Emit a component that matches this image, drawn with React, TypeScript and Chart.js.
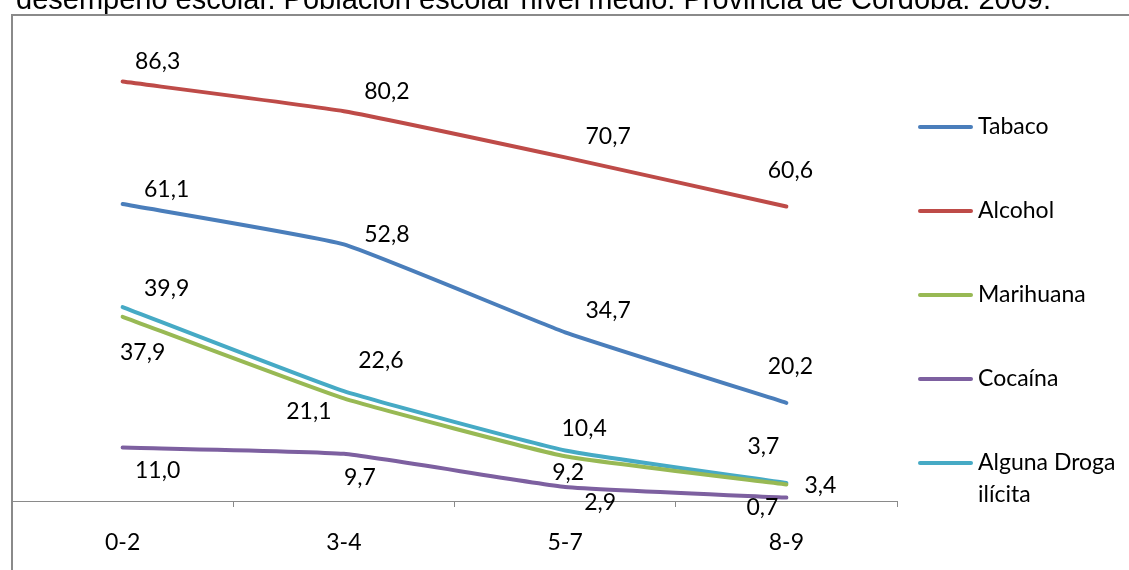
import React, { useEffect, useRef } from "react";
import { Chart, registerables } from "chart.js";

Chart.register(...registerables);

const TITLE = "desempeño escolar. Población escolar nivel medio. Provincia de Córdoba. 2009.";
const CATEGORIES = ["0-2", "3-4", "5-7", "8-9"];
const SERIES_NAMES = ["Tabaco", "Alcohol", "Marihuana", "Cocaína", "Alguna Droga ilícita"];
const TABACO = [61.1, 52.8, 34.7, 20.2];
const ALCOHOL = [86.3, 80.2, 70.7, 60.6];
const MARIHUANA = [37.9, 21.1, 9.2, 3.4];
const COCAINA = [11.0, 9.7, 2.9, 0.7];
const ALGUNA_DROGA = [39.9, 22.6, 10.4, 3.7];
const Y_MIN = 0;
const Y_MAX = 100;

// styling / placement (not data)
const COLORS = ["#4A7EBB", "#BE4B48", "#98B954", "#7D60A0", "#46AAC5"];
const LABEL_OFFSETS: number[][][] = [
  [[44, -14], [43, -10], [43, -22], [4, -36]],
  [[35, -20], [43, -20], [43, -21], [4, -36]],
  [[20, 36], [-35, 13], [3, 16], [34, 1]],
  [[35, 23], [16, 24], [35, 16], [-24, 10]],
  [[44, -19], [37, -31], [19, -22], [-23, -36]],
];
const FONT = "Lato, 'Open Sans', Calibri, sans-serif";

const fmt = (v: number) => v.toFixed(1).replace(".", ",");

const decorPlugin = {
  id: "decor",
  beforeDraw(chart: any) {
    const ctx = chart.ctx;
    ctx.save();
    ctx.fillStyle = "#ffffff";
    ctx.fillRect(0, 0, chart.width, chart.height);
    ctx.fillStyle = "#000";
    ctx.font = "29px 'Liberation Sans', Arial, sans-serif";
    ctx.textBaseline = "alphabetic";
    ctx.textAlign = "left";
    ctx.fillText(TITLE, 16, 9);
    ctx.strokeStyle = "#8a8a8a";
    ctx.lineWidth = 2;
    ctx.strokeRect(12, 15, chart.width + 20, chart.height + 20);
    ctx.restore();
  },
  afterDatasetsDraw(chart: any) {
    const ctx = chart.ctx;
    ctx.save();
    ctx.font = `23px ${FONT}`;
    ctx.fillStyle = "#000";
    ctx.textAlign = "center";
    ctx.textBaseline = "middle";
    chart.data.datasets.forEach((ds: any, i: number) => {
      const meta = chart.getDatasetMeta(i);
      meta.data.forEach((pt: any, j: number) => {
        const off = LABEL_OFFSETS[i][j];
        ctx.fillText(fmt(ds.data[j]), pt.x + off[0], pt.y + off[1]);
      });
    });
    // legend
    ctx.textAlign = "left";
    chart.data.datasets.forEach((ds: any, i: number) => {
      const y = 127 + i * 84;
      ctx.strokeStyle = ds.borderColor;
      ctx.lineWidth = 4;
      ctx.lineCap = "round";
      ctx.beginPath();
      ctx.moveTo(920, y);
      ctx.lineTo(971, y);
      ctx.stroke();
      const words = String(ds.label).split(" ");
      const lines: string[] = [];
      let cur = "";
      for (const w of words) {
        const test = cur ? cur + " " + w : w;
        if (cur && ctx.measureText(test).width > 146) {
          lines.push(cur);
          cur = w;
        } else cur = test;
      }
      if (cur) lines.push(cur);
      lines.forEach((ln, k) => ctx.fillText(ln, 978, y + k * 32));
    });
    ctx.restore();
  },
};

export default function App() {
  const ref = useRef<HTMLCanvasElement>(null);
  useEffect(() => {
    if (!ref.current) return;
    const values = [TABACO, ALCOHOL, MARIHUANA, COCAINA, ALGUNA_DROGA];
    const chart = new Chart(ref.current, {
      type: "line",
      data: {
        labels: CATEGORIES,
        datasets: values.map((d, i) => ({
          label: SERIES_NAMES[i],
          data: d,
          borderColor: COLORS[i],
          backgroundColor: COLORS[i],
          borderWidth: 4,
          borderCapStyle: "round",
          borderJoinStyle: "round",
          pointRadius: 0,
          tension: 0.12,
          fill: false,
        })),
      },
      options: {
        responsive: false,
        animation: false,
        devicePixelRatio: 1,
        layout: { padding: { left: 12, right: 232, top: 15, bottom: 0 } },
        plugins: { legend: { display: false }, tooltip: { enabled: false }, title: { display: false } },
        scales: {
          x: {
            offset: true,
            grid: {
              offset: true,
              drawOnChartArea: false,
              drawTicks: true,
              tickLength: 6,
              color: "#8a8a8a",
            },
            border: { display: true, color: "#8a8a8a", width: 1 },
            ticks: { color: "#000", font: { family: FONT, size: 23 }, padding: 22 },
            afterFit: (s: any) => {
              s.height = 69;
            },
          },
          y: { display: false, min: Y_MIN, max: Y_MAX },
        },
      },
      plugins: [decorPlugin],
    } as any);
    return () => chart.destroy();
  }, []);
  return (
    <div style={{ position: "fixed", left: 0, top: 0, width: 1129, height: 570, background: "#fff" }}>
      <canvas ref={ref} width={1129} height={570} style={{ display: "block" }} />
    </div>
  );
}
